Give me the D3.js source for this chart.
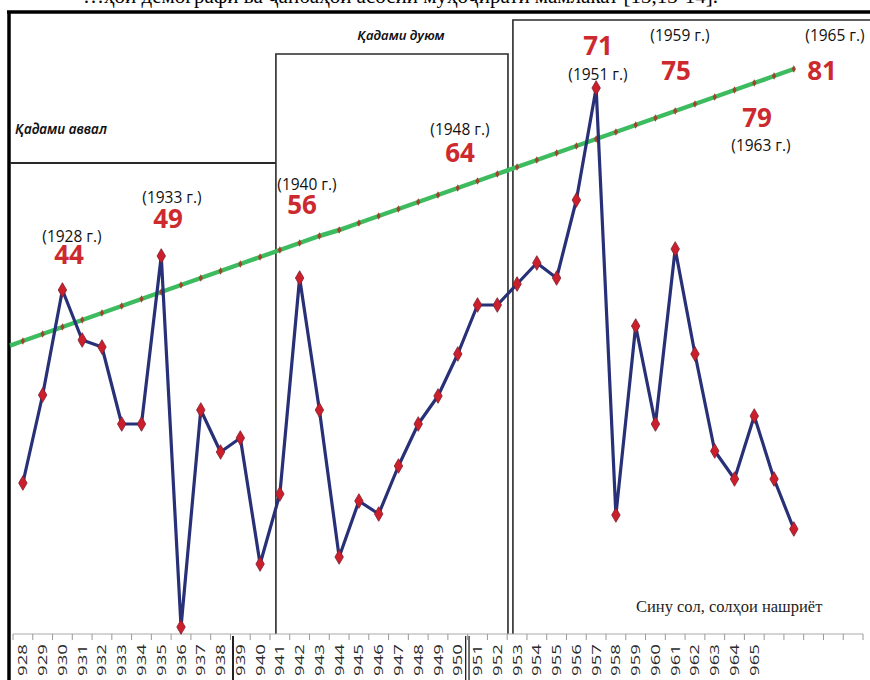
<!DOCTYPE html>
<html>
<head>
<meta charset="utf-8">
<script src="https://cdn.jsdelivr.net/npm/d3@7"></script>
<style>
  html, body { margin: 0; padding: 0; background: #fff; }
  svg { display: block; }
</style>
</head>
<body>
<svg id="chart" width="870" height="680"></svg>
<script>
// ---------------- DATA ----------------
const yearLabels = ["1928","1929","1930","1931","1932","1933","1934","1935","1936","1937",
  "1938","1939","1940","1941","1942","1943","1944","1945","1946","1947","1948","1949",
  "1950","1951","1952","1953","1954","1955","1956","1957","1958","1959","1960","1961",
  "1962","1963","1964","1965"];
const categoryCount = 43; // axis slots (last ones unlabeled)
const seriesValues = [16.7, 25.5, 36.0, 31.0, 30.3, 22.6, 22.6, 39.4, 2.3, 24.0,
  19.8, 21.2, 8.6, 15.6, 37.2, 24.0, 9.3, 14.9, 13.6, 18.4,
  22.6, 25.4, 29.6, 34.5, 34.5, 36.6, 38.7, 37.2, 45.0, 56.2,
  13.5, 32.4, 22.6, 40.1, 29.6, 19.9, 17.1, 23.4, 17.1, 12.1];
const trendValues = [30.9, 31.6, 32.3, 33.0, 33.7, 34.4, 35.1, 35.8, 36.5, 37.2,
  37.9, 38.6, 39.3, 40.0, 40.7, 41.4, 42.0, 42.7, 43.4, 44.1,
  44.8, 45.5, 46.2, 46.9, 47.6, 48.3, 49.0, 49.7, 50.4, 51.1,
  51.8, 52.5, 53.2, 53.9, 54.6, 55.3, 56.0, 56.7, 57.4, 58.1];
const annotYears = ["(1928 г.)","(1933 г.)","(1940 г.)","(1948 г.)","(1951 г.)","(1959 г.)","(1963 г.)","(1965 г.)"];
const annotNumbers = ["44","49","56","64","71","75","79","81"];
const stageNames = ["Қадами аввал","Қадами дуюм"];
const sourceNote = "Сину сол, солҳои нашриёт";
const headerText = "…ҳои демографӣ ва ҷанбаҳои асосии муҳоҷирати мамлакат [13,13-14].";

// ---------------- LAYOUT ----------------
const svg = d3.select("#chart");
svg.append("rect").attr("width", 870).attr("height", 680).attr("fill", "#fff");

const x = d3.scaleBand().domain(d3.range(categoryCount)).range([13, 863]).padding(0);
const step = x.step();
const xc = i => x(i) + step / 2;
const xf = k => x(0) + k * step; // fractional category position
const y = d3.scaleLinear().domain([0, 60]).range([650, 50]);
const axisY = 634;

// clipped header text from document
svg.append("text").attr("x", 718).attr("y", 3).attr("text-anchor", "end")
  .attr("font-family", "Liberation Serif").attr("font-size", 21).attr("fill", "#000")
  .text(headerText);

// outer frame
svg.append("line").attr("x1", 9).attr("x2", 9).attr("y1", 11).attr("y2", 680)
  .attr("stroke", "#000").attr("stroke-width", 3.5);
svg.append("line").attr("x1", 7).attr("x2", 870).attr("y1", 12).attr("y2", 12)
  .attr("stroke", "#000").attr("stroke-width", 3.5);

// stage boxes (category units)
const stageBounds = [13.3, 25.04, 25.29];
const gBox = svg.append("g").attr("stroke", "#2a2a2a").attr("fill", "none");
gBox.append("line").attr("x1", 10).attr("x2", xf(stageBounds[0])).attr("y1", 163).attr("y2", 163).attr("stroke-width", 2);
gBox.append("path").attr("stroke-width", 1.6)
  .attr("d", `M${xf(stageBounds[0])},${axisY}V54H${xf(stageBounds[1])}V${axisY}`);
gBox.append("path").attr("stroke-width", 1.6)
  .attr("d", `M${xf(stageBounds[2])},${axisY}V20H870`);

// residual marks in label area
svg.append("line").attr("x1", xf(11.13)).attr("x2", xf(11.13)).attr("y1", 636).attr("y2", 680)
  .attr("stroke", "#222").attr("stroke-width", 2);
[22.9, 23.07].forEach(k => svg.append("line").attr("x1", xf(k)).attr("x2", xf(k))
  .attr("y1", 636).attr("y2", 680).attr("stroke", "#222").attr("stroke-width", 1.3));

// stage titles
svg.append("text").attr("x", 15).attr("y", 134)
  .attr("font-family", "Noto Sans").attr("font-style", "italic").attr("font-weight", 600)
  .attr("font-size", 13.5).attr("fill", "#111").text(stageNames[0]);
svg.append("text").attr("x", 401).attr("y", 40).attr("text-anchor", "middle")
  .attr("font-family", "Noto Sans").attr("font-style", "italic").attr("font-weight", 600)
  .attr("font-size", 13.2).attr("fill", "#111").text(stageNames[1]);

// axis
svg.append("line").attr("x1", x.range()[0]).attr("x2", x.range()[1])
  .attr("y1", axisY).attr("y2", axisY).attr("stroke", "#aaa").attr("stroke-width", 1.2);
const tickPos = d3.range(categoryCount).map(i => x(i)).concat([x.range()[1]]);
svg.append("g").selectAll("line").data(tickPos).join("line")
  .attr("x1", d => d).attr("x2", d => d).attr("y1", axisY).attr("y2", axisY + 6)
  .attr("stroke", "#999").attr("stroke-width", 1);
svg.append("g").selectAll("text").data(yearLabels).join("text")
  .attr("transform", (d, i) => `translate(${xc(i) + 4.5},${axisY + 10}) rotate(-90) scale(1.55,1)`)
  .attr("text-anchor", "end")
  .attr("font-family", "Open Sans").attr("font-size", 12).attr("fill", "#2a2a2a")
  .text(d => d);

// trend line (green)
const trendLine = d3.line().x((d, i) => xc(i)).y(d => y(d));
const t0 = trendValues[0], t1 = trendValues[1];
const leftExt = t0 - (t1 - t0) * ((xc(0) - 10) / step);
svg.append("path")
  .attr("d", `M10,${y(leftExt)}L` + trendLine(trendValues).slice(1))
  .attr("fill", "none").attr("stroke", "#3dbb5f").attr("stroke-width", 4.5);
svg.append("g").selectAll("path").data(trendValues).join("path")
  .attr("d", d3.symbol(d3.symbolDiamond, 16))
  .attr("transform", (d, i) => `translate(${xc(i)},${y(d)})`)
  .attr("fill", "#a0442c");

// main series
const mainLine = d3.line().x((d, i) => xc(i)).y(d => y(d));
svg.append("path").attr("d", mainLine(seriesValues))
  .attr("fill", "none").attr("stroke", "#283077").attr("stroke-width", 3.2)
  .attr("stroke-linejoin", "round");
svg.append("g").selectAll("path").data(seriesValues).join("path")
  .attr("d", d3.symbol(d3.symbolDiamond, 62))
  .attr("transform", (d, i) => `translate(${xc(i)},${y(d)})`)
  .attr("fill", "#cc1f2b").attr("stroke", "#7b2030").attr("stroke-width", 0.8);

// annotations
const annotPos = [
  { yx: 72, yy: 242, nx: 69, ny: 264 },
  { yx: 172, yy: 203, nx: 168, ny: 228 },
  { yx: 307, yy: 190, nx: 302, ny: 214 },
  { yx: 460, yy: 135, nx: 460, ny: 162 },
  { yx: 598, yy: 80, nx: 598, ny: 55 },
  { yx: 680, yy: 41, nx: 676, ny: 80 },
  { yx: 761, yy: 151, nx: 757, ny: 127 },
  { yx: 835, yy: 41, nx: 822, ny: 80 }
];
annotYears.forEach((t, i) => {
  const p = annotPos[i];
  svg.append("text").attr("x", p.yx).attr("y", p.yy).attr("text-anchor", "middle")
    .attr("font-family", "Open Sans").attr("font-size", 15.5).attr("fill", "#111").text(t);
  svg.append("text").attr("x", p.nx).attr("y", p.ny).attr("text-anchor", "middle")
    .attr("font-family", "Open Sans").attr("font-weight", 700).attr("font-size", 26)
    .attr("fill", "#cc2a2f").text(annotNumbers[i]);
});

// source note
svg.append("text").attr("x", 636).attr("y", 612)
  .attr("font-family", "Liberation Serif").attr("font-size", 16.5).attr("fill", "#222")
  .text(sourceNote);
</script>
</body>
</html>
